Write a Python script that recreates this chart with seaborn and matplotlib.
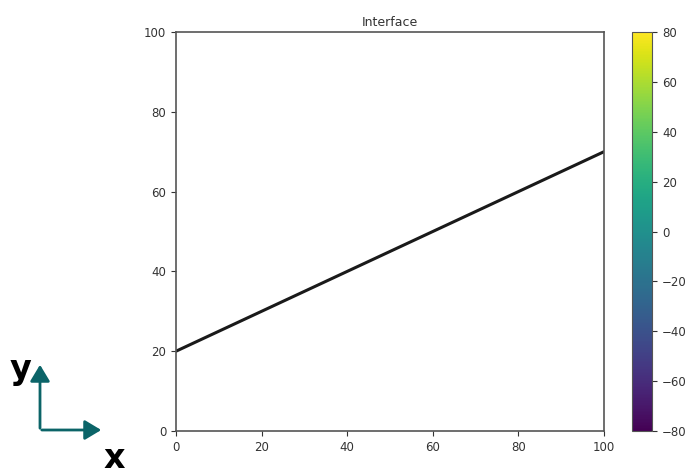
import numpy as np
import pandas as pd
import matplotlib
matplotlib.use("Agg")
import matplotlib.pyplot as plt
import seaborn as sns
from matplotlib.patches import FancyArrowPatch

# Interface line endpoints
interface_x = [0, 100]
interface_y = [20, 70]

# Colour scale range of the field
field_min = -80
field_max = 80
cbar_ticks = [-80, -60, -40, -20, 0, 20, 40, 60, 80]
axis_ticks = [0, 20, 40, 60, 80, 100]

sns.set_style("ticks")
plt.rcParams["font.family"] = ["DejaVu Sans"]

fig = plt.figure(figsize=(6.97, 4.75), dpi=100)
ax = fig.add_axes([0.2525, 0.0926, 0.614, 0.84])
cax = fig.add_axes([0.907, 0.0926, 0.029, 0.84])

df = pd.DataFrame({"x": interface_x, "y": interface_y})
sns.lineplot(data=df, x="x", y="y", ax=ax, color="#1a1a1a", linewidth=2.2)

ax.set_xlim(0, 100)
ax.set_ylim(0, 100)
ax.set_xticks(axis_ticks)
ax.set_yticks(axis_ticks)
ax.set_xlabel("")
ax.set_ylabel("")
ax.set_title("Interface", fontsize=9, color="#333333", pad=4)
ax.tick_params(labelsize=8.5, colors="#333333", length=3.5)
for s in ax.spines.values():
    s.set_color("#555555")
    s.set_linewidth(1.2)

norm = matplotlib.colors.Normalize(vmin=field_min, vmax=field_max)
sm = matplotlib.cm.ScalarMappable(norm=norm, cmap="viridis")
cb = fig.colorbar(sm, cax=cax, ticks=cbar_ticks)
cb.outline.set_edgecolor("#555555")
cax.tick_params(labelsize=8.5, colors="#333333", length=3.5)

# Coordinate direction arrows
teal = "#0b6468"
arrow_style = "-|>,head_length=10,head_width=6"
fig.patches.append(FancyArrowPatch((40 / 697, 1 - 431 / 475), (40 / 697, 1 - 362 / 475),
                                   transform=fig.transFigure, arrowstyle=arrow_style,
                                   color=teal, linewidth=2, mutation_scale=1))
fig.patches.append(FancyArrowPatch((39 / 697, 1 - 430 / 475), (104 / 697, 1 - 430 / 475),
                                   transform=fig.transFigure, arrowstyle=arrow_style,
                                   color=teal, linewidth=2, mutation_scale=1))
fig.text(20 / 697, 1 - 370 / 475, "y", fontsize=24, fontweight="bold", ha="center", va="center", color="black")
fig.text(114 / 697, 1 - 458 / 475, "x", fontsize=24, fontweight="bold", ha="center", va="center", color="black")

fig.savefig("out.png", dpi=100)
